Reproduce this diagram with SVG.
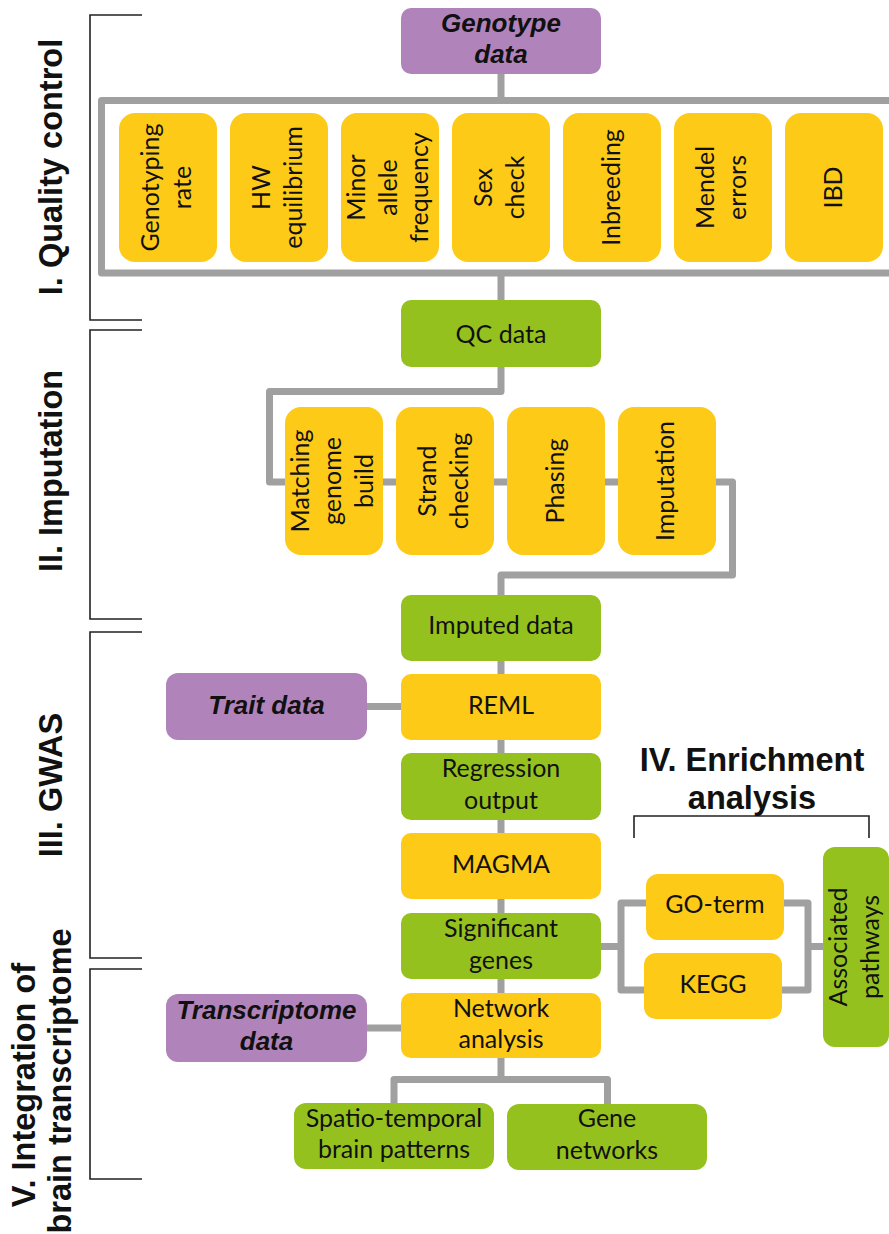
<svg xmlns="http://www.w3.org/2000/svg" width="889" height="1234" viewBox="0 0 889 1234">
<style>
.conn{fill:none;stroke:#a0a0a0;stroke-width:7;stroke-linejoin:round}
.brk{fill:none;stroke:#222;stroke-width:1.6}
.y{fill:#fdca18}
.g{fill:#95c11f}
.p{fill:#b084ba}
.t{font-family:Lato,"Liberation Sans",sans-serif;font-size:25px;fill:#111;text-anchor:middle}
.bi{font-family:"Liberation Sans",Arial,sans-serif;font-size:26px;font-weight:bold;font-style:italic;fill:#111;text-anchor:middle}
.h{font-family:"Liberation Sans",Arial,sans-serif;font-size:32.5px;font-weight:bold;fill:#111;text-anchor:middle}
</style>
<rect width="889" height="1234" fill="#fff"/>
<g id="brackets">
<path class="brk" d="M142 15H90V320H142"/>
<path class="brk" d="M142 330H90V619H142"/>
<path class="brk" d="M142 632H90V958H142"/>
<path class="brk" d="M142 969H90V1179H142"/>
<path class="brk" d="M634 838V816H869V838"/>
</g>
<g id="section-labels">
<text class="h" transform="translate(62,167) rotate(-90)">I. Quality control</text>
<text class="h" transform="translate(62,471) rotate(-90)">II. Imputation</text>
<text class="h" transform="translate(62,785) rotate(-90)">III. GWAS</text>
<text class="h" transform="translate(35,1085) rotate(-90)">V. Integration of</text>
<text class="h" transform="translate(71,1081) rotate(-90)">brain transcriptome</text>
<text class="h" x="752" y="771">IV. Enrichment</text>
<text class="h" x="752" y="809">analysis</text>
</g>
<g id="connectors">
<path class="conn" d="M895 100.5H101.5V273H895"/>
<path class="conn" d="M501 74V100.5M501 273V300"/>
<path class="conn" d="M501 367V391.5H269.5V482H732.5V575H501V595"/>
<path class="conn" d="M501 661V674M501 740V753M501 820V833M501 899V913M501 979V993"/>
<path class="conn" d="M367 706.5H401M367 1028H401"/>
<path class="conn" d="M501 1058V1079.5M394 1103V1079.5H607.5V1104"/>
<path class="conn" d="M601 946.5H621M646 903H621V990H644M784 903H808V990H782M808 946.5H823"/>
</g>
<g id="genotype-data"><rect class="p" x="401" y="8" width="200" height="66" rx="10"/><text class="bi" x="501" y="32">Genotype</text><text class="bi" x="501" y="63">data</text></g>
<g id="qc-genotyping-rate"><rect class="y" x="119" y="113" width="98" height="149" rx="16"/><text class="t" transform="translate(168,187.5) rotate(-90)"><tspan x="0" y="-9">Genotyping</tspan><tspan x="0" y="23">rate</tspan></text></g>
<g id="qc-hw"><rect class="y" x="230" y="113" width="98" height="149" rx="16"/><text class="t" transform="translate(279,187.5) rotate(-90)"><tspan x="0" y="-9">HW</tspan><tspan x="0" y="23">equilibrium</tspan></text></g>
<g id="qc-maf"><rect class="y" x="341" y="113" width="98" height="149" rx="16"/><text class="t" transform="translate(390,187.5) rotate(-90)"><tspan x="0" y="-25">Minor</tspan><tspan x="0" y="7">allele</tspan><tspan x="0" y="38">frequency</tspan></text></g>
<g id="qc-sex"><rect class="y" x="452" y="113" width="98" height="149" rx="16"/><text class="t" transform="translate(501,187.5) rotate(-90)"><tspan x="0" y="-9">Sex</tspan><tspan x="0" y="23">check</tspan></text></g>
<g id="qc-inbreeding"><rect class="y" x="563" y="113" width="98" height="149" rx="16"/><text class="t" transform="translate(612,187.5) rotate(-90)"><tspan x="0" y="8">Inbreeding</tspan></text></g>
<g id="qc-mendel"><rect class="y" x="674" y="113" width="98" height="149" rx="16"/><text class="t" transform="translate(723,187.5) rotate(-90)"><tspan x="0" y="-9">Mendel</tspan><tspan x="0" y="23">errors</tspan></text></g>
<g id="qc-ibd"><rect class="y" x="785" y="113" width="98" height="149" rx="16"/><text class="t" transform="translate(834,187.5) rotate(-90)"><tspan x="0" y="8">IBD</tspan></text></g>
<g id="qc-data"><rect class="g" x="401" y="300" width="200" height="67" rx="10"/><text class="t" x="501" y="343">QC data</text></g>
<g id="imp-matching"><rect class="y" x="285" y="407" width="98" height="148" rx="16"/><text class="t" transform="translate(334,481) rotate(-90)"><tspan x="0" y="-25">Matching</tspan><tspan x="0" y="7">genome</tspan><tspan x="0" y="39">build</tspan></text></g>
<g id="imp-strand"><rect class="y" x="396" y="407" width="98" height="148" rx="16"/><text class="t" transform="translate(445,481) rotate(-90)"><tspan x="0" y="-9">Strand</tspan><tspan x="0" y="23">checking</tspan></text></g>
<g id="imp-phasing"><rect class="y" x="507" y="407" width="98" height="148" rx="16"/><text class="t" transform="translate(556,481) rotate(-90)"><tspan x="0" y="8">Phasing</tspan></text></g>
<g id="imp-imputation"><rect class="y" x="618" y="407" width="98" height="148" rx="16"/><text class="t" transform="translate(667,481) rotate(-90)"><tspan x="0" y="7">Imputation</tspan></text></g>
<g id="imputed-data"><rect class="g" x="401" y="595" width="200" height="66" rx="10"/><text class="t" x="501" y="634">Imputed data</text></g>
<g id="trait-data"><rect class="p" x="166" y="673" width="201" height="67" rx="12"/><text class="bi" x="266.5" y="714">Trait data</text></g>
<g id="reml"><rect class="y" x="401" y="674" width="200" height="66" rx="10"/><text class="t" x="501" y="714">REML</text></g>
<g id="regression-output"><rect class="g" x="401" y="753" width="200" height="67" rx="10"/><text class="t" x="501" y="777">Regression</text><text class="t" x="501" y="809">output</text></g>
<g id="magma"><rect class="y" x="401" y="833" width="200" height="66" rx="10"/><text class="t" x="501" y="873">MAGMA</text></g>
<g id="significant-genes"><rect class="g" x="401" y="913" width="200" height="66" rx="10"/><text class="t" x="501" y="937">Significant</text><text class="t" x="501" y="969">genes</text></g>
<g id="go-term"><rect class="y" x="646" y="874" width="138" height="66" rx="12"/><text class="t" x="715" y="913">GO-term</text></g>
<g id="kegg"><rect class="y" x="644" y="953" width="138" height="66" rx="12"/><text class="t" x="713" y="993">KEGG</text></g>
<g id="associated-pathways"><rect class="g" x="823" y="847" width="66" height="200" rx="12"/><text class="t" transform="translate(855.5,947) rotate(-90)"><tspan x="0" y="-9">Associated</tspan><tspan x="0" y="23">pathways</tspan></text></g>
<g id="transcriptome-data"><rect class="p" x="166" y="994" width="201" height="68" rx="12"/><text class="bi" x="266.5" y="1019">Transcriptome</text><text class="bi" x="266.5" y="1050">data</text></g>
<g id="network-analysis"><rect class="y" x="401" y="993" width="200" height="65" rx="10"/><text class="t" x="501" y="1017">Network</text><text class="t" x="501" y="1048">analysis</text></g>
<g id="spatio-temporal"><rect class="g" x="294" y="1103" width="200" height="66" rx="12"/><text class="t" x="394" y="1127">Spatio-temporal</text><text class="t" x="394" y="1158">brain patterns</text></g>
<g id="gene-networks"><rect class="g" x="507" y="1104" width="200" height="66" rx="12"/><text class="t" x="607" y="1127">Gene</text><text class="t" x="607" y="1159">networks</text></g>
</svg>
